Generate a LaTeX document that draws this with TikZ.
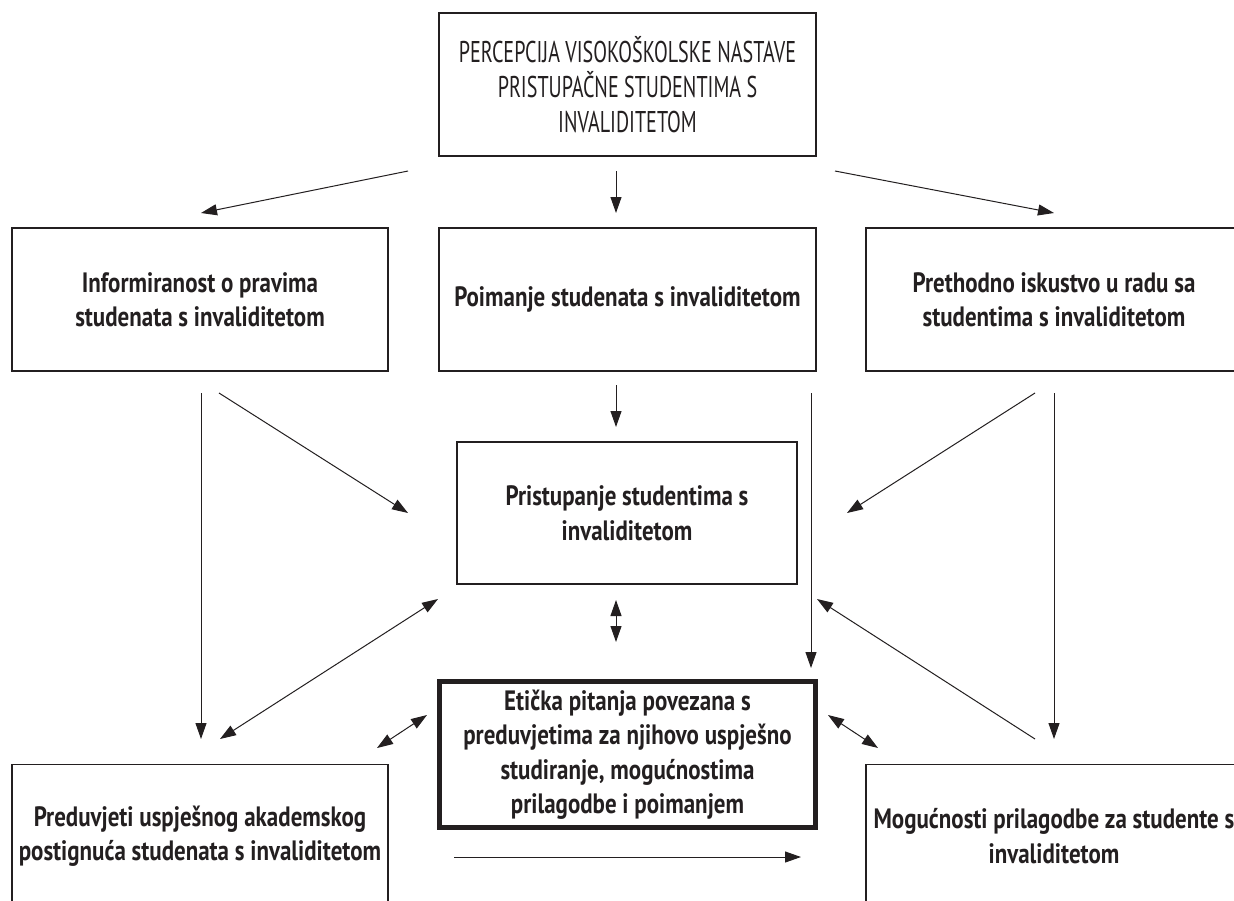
\documentclass[tikz,border=0pt]{standalone}
\usepackage{fontspec}
\usetikzlibrary{arrows.meta}
\newfontfamily\capsfont[FakeStretch=0.67]{PT Sans}
\newfontfamily\boxfont[FakeStretch=0.82]{PT Sans}
\definecolor{ink}{HTML}{231F20}
\tikzset{
 box/.style={draw=ink, line width=1.2pt, rectangle, inner sep=0pt, align=center, text=ink,
   minimum width=376pt, minimum height=143pt,
   font=\boxfont\bfseries\fontsize{28}{34.5}\selectfont},
 topbox/.style={box, font=\capsfont\fontsize{30}{35}\selectfont},
 keybox/.style={box, line width=5pt},
 arr/.style={draw=ink, line width=1pt, -{Triangle[length=16pt,width=11pt]}},
 darr/.style={draw=ink, line width=1pt, {Triangle[length=16pt,width=11pt]}-{Triangle[length=16pt,width=11pt]}},
 ln/.style={draw=ink, line width=1pt}
}
\begin{document}
\begin{tikzpicture}[x=1pt,y=-1pt]
\useasboundingbox (0,0) rectangle (1234,900);
\clip (0,0) rectangle (1234,900);
\fill[white] (0,0) rectangle (1234,900);

% boxes
\node[topbox, minimum width=377pt] (top) at (627.5,84.5)
  {PERCEPCIJA VISOKOŠKOLSKE NASTAVE\\PRISTUPAČNE STUDENTIMA S\\INVALIDITETOM};
\node[box] (info) at (200,299.5) {Informiranost o pravima\\studenata s invaliditetom};
\node[box, minimum width=377pt] (poim) at (627.5,299.5) {Poimanje studenata s invaliditetom};
\node[box] (pret) at (1054,299.5) {Prethodno iskustvo u radu sa\\studentima s invaliditetom};
\node[box, minimum width=340pt, minimum height=142pt] (prist) at (627,513) {Pristupanje studentima s\\invaliditetom};
\node[keybox, minimum width=376pt, minimum height=146pt] (etic) at (627.5,754.5)
  {Etička pitanja povezana s\\preduvjetima za njihovo uspješno\\studiranje, mogućnostima\\prilagodbe i poimanjem};
\node[box] (pred) at (200,836) {Preduvjeti uspješnog akademskog\\postignuća studenata s invaliditetom};
\node[box] (mog) at (1054,836) {Mogućnosti prilagodbe za studente s\\invaliditetom};

% connector end points
\coordinate (tL1) at (408,171); \coordinate (tL2) at (201,213);
\coordinate (tM1) at (616,171); \coordinate (tM2) at (616,213);
\coordinate (tR1) at (835,171); \coordinate (tR2) at (1054,213);
\coordinate (iV1) at (201,393); \coordinate (iV2) at (201,739);
\coordinate (iD1) at (219,393); \coordinate (iD2) at (408,513);
\coordinate (pV1) at (616,385); \coordinate (pV2) at (616,427);
\coordinate (pL1) at (811,393); \coordinate (pL2) at (811,668);
\coordinate (hD1) at (1035,393); \coordinate (hD2) at (847,513);
\coordinate (hV1) at (1054,393); \coordinate (hV2) at (1054,739);
\coordinate (lD1) at (220,739); \coordinate (lD2) at (438,599);
\coordinate (cV1) at (616,600); \coordinate (cV2) at (616,642);
\coordinate (rD1) at (1035,739); \coordinate (rD2) at (817,599);
\coordinate (eL1) at (377,748); \coordinate (eL2) at (427,715);
\coordinate (eR1) at (828,715); \coordinate (eR2) at (878,748);
\coordinate (bH1) at (454,857); \coordinate (bH2) at (801,857);

% connectors
\draw[arr] (tL1) -- (tL2);
\draw[arr] (tM1) -- (tM2);
\draw[arr] (tR1) -- (tR2);
\draw[arr] (iV1) -- (iV2);
\draw[arr] (iD1) -- (iD2);
\draw[arr] (pV1) -- (pV2);
\draw[arr] (pL1) -- (pL2);
\draw[arr] (hD1) -- (hD2);
\draw[arr] (hV1) -- (hV2);
\draw[darr] (lD1) -- (lD2);
\draw[darr] (cV1) -- (cV2);
\draw[arr] (rD1) -- (rD2);
\draw[darr] (eL1) -- (eL2);
\draw[darr] (eR1) -- (eR2);
\draw[arr] (bH1) -- (bH2);
\end{tikzpicture}
\end{document}
